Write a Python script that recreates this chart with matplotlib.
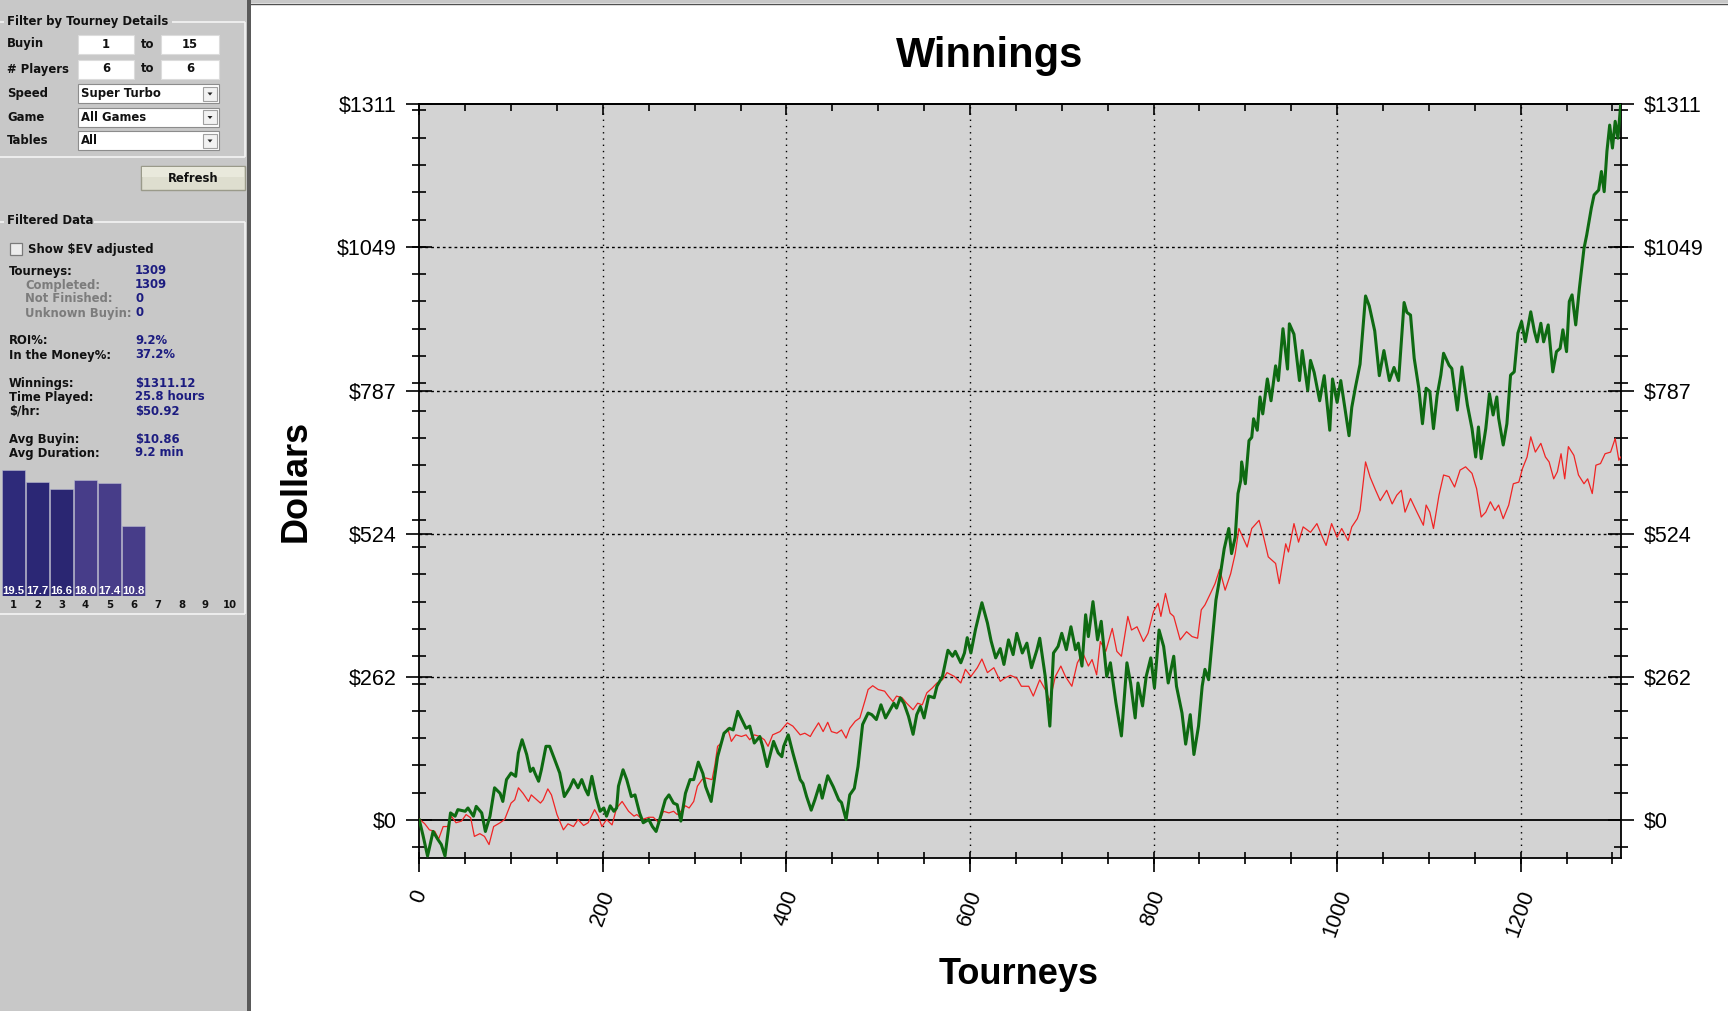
import matplotlib
matplotlib.use('Agg')
import matplotlib.pyplot as plt
from matplotlib.patches import Rectangle, Polygon
from matplotlib.ticker import FixedLocator, MultipleLocator, FuncFormatter

# ---------------- data ----------------
winnings_t = [0, 4, 9, 15, 20, 24, 28, 34, 39, 42, 50, 53, 59, 62, 68, 72, 77, 82, 88, 91,
              95, 100, 105, 108, 112, 117, 121, 124, 126, 130, 133, 138, 142, 147, 153, 158,
              164, 168, 173, 177, 181, 184, 188, 193, 197, 201, 204, 208, 212, 215, 217, 222,
              226, 231, 235, 240, 244, 250, 254, 258, 263, 268, 272, 277, 281, 285, 290, 295,
              299, 304, 309, 312, 318, 325, 332, 338, 342, 347, 356, 360, 365, 371, 374, 379,
              386, 391, 395, 397, 402, 407, 415, 418, 422, 427, 431, 436, 439, 445, 451, 457,
              460, 465, 469, 474, 478, 483, 489, 493, 498, 503, 508, 512, 517, 520, 524, 528,
              533, 538, 542, 546, 550, 555, 561, 564, 570, 576, 581, 584, 590, 594, 597, 601,
              606, 613, 619, 623, 628, 633, 637, 642, 647, 651, 657, 662, 667, 673, 676, 682,
              687, 691, 696, 700, 705, 710, 715, 718, 722, 726, 729, 734, 739, 743, 749, 753,
              759, 765, 771, 775, 780, 783, 788, 792, 797, 801, 806, 811, 816, 822, 825, 831,
              835, 840, 844, 849, 853, 856, 860, 864, 868, 873, 877, 882, 885, 889, 892, 895,
              896, 900, 904, 907, 909, 913, 916, 919, 924, 928, 933, 936, 941, 946, 948, 953,
              959, 962, 968, 971, 975, 981, 986, 992, 995, 1000, 1004, 1013, 1016, 1020, 1025,
              1031, 1035, 1041, 1046, 1051, 1057, 1062, 1067, 1073, 1076, 1080, 1084, 1089,
              1093, 1097, 1101, 1105, 1109, 1113, 1116, 1122, 1125, 1131, 1136, 1142, 1147,
              1151, 1154, 1157, 1162, 1166, 1170, 1174, 1176, 1181, 1185, 1189, 1193, 1197,
              1201, 1205, 1211, 1215, 1218, 1222, 1225, 1230, 1235, 1239, 1243, 1246, 1250,
              1253, 1256, 1260, 1264, 1269, 1272, 1277, 1280, 1285, 1288, 1291, 1294, 1297,
              1300, 1303, 1306, 1309]
winnings_v = [0, -28, -66, -21, -35, -45, -66, 13, 7, 19, 16, 22, 7, 25, 13, -21, 7, 59, 49, 34,
              74, 86, 80, 123, 147, 120, 89, 95, 86, 71, 92, 135, 135, 113, 86, 43,
              59, 74, 59, 74, 56, 46, 80, 40, 16, 22, 7, 26, 16, 22, 62, 92,
              74, 43, 46, 13, -5, 1, -12, -21, 7, 37, 46, 31, 28, -2, 49, 74,
              74, 106, 85, 61, 34, 116, 159, 168, 165, 199, 168, 172, 141, 153, 135, 98,
              144, 123, 116, 135, 156, 123, 74, 67, 43, 18, 37, 64, 40, 81, 61, 37,
              32, 1, 46, 58, 98, 175, 196, 193, 184, 211, 187, 199, 214, 205, 224, 214,
              190, 157, 193, 208, 187, 227, 224, 245, 263, 311, 300, 309, 288, 306, 334, 306,
              349, 398, 361, 328, 297, 314, 285, 330, 303, 342, 306, 324, 279, 312, 333, 263,
              172, 306, 318, 342, 312, 354, 312, 324, 282, 376, 336, 400, 330, 364, 263, 288,
              215, 154, 288, 251, 187, 251, 209, 263, 297, 242, 348, 318, 251, 300, 245, 196,
              139, 193, 120, 172, 245, 276, 257, 330, 403, 452, 497, 534, 488, 518, 598, 622,
              656, 616, 695, 701, 735, 714, 775, 744, 808, 768, 832, 805, 900, 826, 909, 890,
              805, 860, 787, 842, 820, 768, 814, 714, 808, 765, 805, 704, 756, 793, 835,
              960, 942, 896, 814, 860, 805, 829, 805, 948, 930, 925, 846, 791,
              726, 791, 785, 717, 778, 815, 855, 833, 827, 751, 830, 760, 717,
              665, 720, 662, 717, 781, 742, 775, 736, 687, 726, 815, 821, 892,
              913, 876, 931, 895, 876, 910, 876, 907, 821, 858, 864, 898, 858,
              950, 962, 907, 974, 1047, 1072, 1121, 1145, 1154, 1188, 1151, 1225, 1273,
              1231, 1280, 1249, 1311.12]

ev_t = [0, 6, 11, 17, 21, 26, 31, 35, 40, 46, 51, 56, 60, 66, 71, 76, 81, 88, 93, 100,
        104, 108, 113, 119, 122, 128, 132, 135, 140, 144, 150, 157, 162, 168, 173, 179, 184,
        191, 195, 199, 204, 210, 215, 221, 228, 234, 237, 243, 250, 255, 261, 266, 272, 277,
        281, 285, 290, 294, 299, 303, 308, 312, 319, 322, 325, 329, 332, 336, 340, 345, 351,
        356, 360, 365, 371, 376, 380, 385, 393, 401, 407, 415, 420, 426, 429, 435, 440, 445,
        449, 455, 460, 465, 469, 475, 480, 486, 489, 494, 500, 507, 511, 516, 520, 526, 531,
        538, 543, 548, 553, 559, 564, 570, 575, 583, 590, 595, 601, 608, 613, 619, 626, 633,
        638, 644, 651, 656, 664, 669, 676, 682, 687, 693, 699, 704, 711, 717, 723, 729, 733,
        738, 742, 748, 755, 760, 765, 772, 776, 782, 789, 794, 800, 805, 808, 813, 818, 822,
        829, 836, 842, 848, 852, 856, 862, 867, 872, 878, 884, 889, 893, 898, 902, 907, 915,
        920, 925, 933, 937, 944, 947, 953, 958, 963, 971, 978, 984, 988, 994, 1000, 1005,
        1012, 1016, 1022, 1025, 1031, 1036, 1042, 1047, 1054, 1060, 1065, 1070, 1074, 1080,
        1087, 1094, 1097, 1101, 1105, 1111, 1116, 1122, 1128, 1134, 1140, 1147, 1152, 1157,
        1162, 1167, 1172, 1176, 1181, 1187, 1192, 1198, 1202, 1207, 1211, 1216, 1222, 1227,
        1231, 1236, 1240, 1244, 1248, 1252, 1258, 1263, 1269, 1273, 1278, 1282, 1287, 1292,
        1298, 1303, 1307, 1309]
ev_v = [2, -7, -18, -21, -35, -12, -12, 7, -5, -2, 10, 4, -30, -25, -30, -45, -12, -5, 1, 31,
        37, 59, 49, 34, 46, 37, 31, 37, 57, 46, 10, -18, -7, -12, 1, -10, -5,
        19, 7, -12, 1, -9, 22, 34, 16, 7, 10, 1, 5, 5, -5, 16, 13, 16,
        10, 16, 26, 22, 34, 62, 74, 77, 74, 100, 135, 141, 156, 168, 144, 156, 153,
        156, 147, 156, 153, 147, 135, 156, 162, 178, 172, 156, 159, 153, 162, 178, 162, 179,
        162, 159, 165, 150, 168, 181, 187, 221, 239, 246, 239, 236, 227, 217, 227, 224, 214,
        202, 214, 211, 233, 242, 251, 257, 270, 263, 251, 276, 263, 279, 295, 270, 279, 254,
        260, 265, 260, 245, 245, 227, 257, 239, 218, 263, 282, 263, 245, 288, 306, 282, 294,
        266, 327, 309, 351, 309, 300, 373, 348, 354, 327, 342, 382, 397, 373, 415, 379, 373,
        330, 345, 336, 333, 385, 394, 415, 433, 459, 421, 451, 488, 534, 515, 500, 534, 549,
        518, 482, 470, 433, 506, 491, 543, 509, 537, 527, 543, 518, 503, 543, 518, 534,
        512, 537, 552, 567, 656, 628, 604, 585, 604, 579, 595, 604, 564, 589,
        564, 540, 577, 564, 534, 595, 632, 629, 610, 641, 647, 635, 607, 555,
        564, 583, 567, 577, 552, 577, 616, 619, 644, 665, 702, 674, 690, 665,
        656, 625, 638, 671, 625, 684, 668, 632, 616, 625, 598, 650, 653, 671,
        674, 699, 659, 665]

x_ticks = [0, 200, 400, 600, 800, 1000, 1200]
y_ticks = [0, 262.224, 524.448, 786.672, 1048.896, 1311.12]
x_range = [0, 1309]
y_range = [-69.6, 1311.12]

finish_places = [1, 2, 3, 4, 5, 6, 7, 8, 9, 10]
finish_pct = [19.5, 17.7, 16.6, 18.0, 17.4, 10.8]

filter_rows = [("Buyin", "1", "15"), ("# Players", "6", "6")]
combo_rows = [("Speed", "Super Turbo"), ("Game", "All Games"), ("Tables", "All")]
stats_rows = [("Tourneys:", "1309", False), ("Completed:", "1309", True),
              ("Not Finished:", "0", True), ("Unknown Buyin:", "0", True),
              ("ROI%:", "9.2%", False), ("In the Money%:", "37.2%", False),
              ("Winnings:", "$1311.12", False), ("Time Played:", "25.8 hours", False),
              ("$/hr:", "$50.92", False), ("Avg Buyin:", "$10.86", False),
              ("Avg Duration:", "9.2 min", False)]

# ---------------- figure ----------------
W, H = 1728, 1011
fig = plt.figure(figsize=(W / 100, H / 100), dpi=100)
fig.patch.set_facecolor('white')

CH = ['Liberation Sans', 'DejaVu Sans']
UI = ['DejaVu Sans']

bg = fig.add_axes([0, 0, 1, 1])
bg.set_xlim(0, W)
bg.set_ylim(H, 0)
bg.axis('off')
bg.set_zorder(0)

# sidebar panels
bg.add_patch(Rectangle((0, 0), 247, H, fc='#c8c8c8', ec='none'))
bg.add_patch(Rectangle((247, 0), 4, H, fc='#5a5a5a', ec='none'))
bg.add_patch(Rectangle((251, 0), W - 251, 3, fc='#c8c8c8', ec='none'))
bg.plot([251, W], [3.5, 3.5], color='#505050', lw=1)

gb = dict(color='#f4f4f4', lw=1.2, solid_capstyle='butt')
bg.plot([0, 4], [22, 22], **gb)
bg.plot([172, 245], [22, 22], **gb)
bg.plot([245, 245], [22, 157], **gb)
bg.plot([0, 245], [157, 157], **gb)
bg.plot([0, 4], [222, 222], **gb)
bg.plot([94, 245], [222, 222], **gb)
bg.plot([245, 245], [222, 614], **gb)
bg.plot([0, 245], [614, 614], **gb)

ui = dict(family=UI, weight='bold', fontsize=8.4, va='center')
bg.text(7, 21, "Filter by Tourney Details", color='#111111', **ui)
for i, (lab, a, b) in enumerate(filter_rows):
    yc = 44 + 25 * i
    bg.text(7, yc, lab, color='#111111', **ui)
    bg.add_patch(Rectangle((78, yc - 9), 56, 19, fc='white', ec='#dcdcdc', lw=0.8))
    bg.add_patch(Rectangle((161, yc - 9), 58, 19, fc='white', ec='#dcdcdc', lw=0.8))
    bg.text(106, yc, a, color='#111111', ha='center', **ui)
    bg.text(190, yc, b, color='#111111', ha='center', **ui)
    bg.text(148, yc, "to", color='#111111', ha='center', **ui)

for i, (lab, val) in enumerate(combo_rows):
    yc = 94 + 23.5 * i
    top = 84 + 23.5 * i
    bg.text(7, yc, lab, color='#111111', **ui)
    bg.add_patch(Rectangle((78, top), 141, 19, fc='white', ec='#8c8c8c', lw=0.8))
    bg.text(81, yc, val, color='#111111', **ui)
    bg.add_patch(Rectangle((203, top + 2.5), 14, 14, fc='#f2f2f2', ec='#a0a0a0', lw=0.8))
    bg.add_patch(Polygon([[207.5, yc - 1.5], [212.5, yc - 1.5], [210, yc + 1.5]],
                         closed=True, fc='#222222', ec='none'))

# refresh button
bg.add_patch(Rectangle((141, 166), 104, 24, fc='#dedecf', ec='#9a9a8a', lw=1))
bg.add_patch(Rectangle((142, 167), 102, 10, fc='#e9e9dc', ec='none'))
bg.text(193, 178, "Refresh", color='#111111', ha='center', **ui)

# filtered data
bg.text(7, 221, "Filtered Data", color='#111111', **ui)
bg.add_patch(Rectangle((10, 243), 12, 12, fc='#ececec', ec='#7a7a7a', lw=0.9))
bg.text(28, 249, "Show $EV adjusted", color='#111111', **ui)

stat_y = [271, 285, 299, 313, 341, 355, 383, 397, 411, 439, 453]
for (lab, val, sub), yc in zip(stats_rows, stat_y):
    bg.text(25 if sub else 9, yc, lab, color='#7c7c7c' if sub else '#111111', **ui)
    bg.text(135, yc, val, color='#1c1c80', **ui)

# finish distribution bars
bx = fig.add_axes([1.5 / W, (H - 595.7) / H, 240 / W, 129 / H])
bx.set_xlim(0.5, 10.5)
bx.set_ylim(0, 20)
bx.axis('off')
bar_cols = ['#2e2a7a', '#2b2775', '#2a2672', '#473d89', '#473d89', '#473d89']
bx.bar(finish_places[:len(finish_pct)], finish_pct, width=0.96, color=bar_cols,
       edgecolor='#b8b8d0', linewidth=0.4)
for p, v in zip(finish_places, finish_pct):
    bx.text(p, 0.75, f"{v:.1f}", color='white', ha='center', va='center',
            family=['Liberation Sans'], weight='bold', fontsize=8.2)
for p in finish_places:
    bg.text(13.5 + 24 * (p - 1), 605, str(p), color='#111111', ha='center', va='center',
            family=UI, weight='bold', fontsize=7.3)

# ---------------- main chart ----------------
L, R, T, B = 419.3, 1620.7, 104.3, 858.0
ax = fig.add_axes([L / W, (H - B) / H, (R - L) / W, (B - T) / H])
ax.set_zorder(2)
ax.set_facecolor('#d3d3d3')
ax.set_xlim(*x_range)
ax.set_ylim(*y_range)

for xv in x_ticks[1:]:
    ax.axvline(xv, color='black', lw=1.0, ls=(0, (1, 3.5)), zorder=1)
for yv in y_ticks[1:-1]:
    ax.axhline(yv, color='black', lw=1.0, ls=(0, (2, 2.2)), zorder=1)
ax.axhline(0, color='black', lw=1.3, zorder=2)

ax.plot(ev_t, ev_v, color='#f02424', lw=0.9, zorder=3)
ax.plot(winnings_t, winnings_v, color='#0e6a12', lw=2.2, zorder=4)

for s in ax.spines.values():
    s.set_color('black')
    s.set_linewidth(1.3)

ax.xaxis.set_major_locator(FixedLocator(x_ticks))
ax.xaxis.set_minor_locator(MultipleLocator(50))
ax.xaxis.remove_overlapping_locs = False
ax.xaxis.set_major_formatter(FuncFormatter(lambda v, p: f"{v:.0f}"))
ax.tick_params(axis='x', which='minor', direction='inout', length=9, width=1.2,
               top=False, bottom=True)
ax.tick_params(axis='x', which='major', direction='out', length=10, width=1.2,
               top=False, bottom=True, labelsize=15.5, pad=11, labelrotation=70)
for lab in ax.get_xticklabels():
    lab.set_family(CH)

ax.yaxis.set_major_locator(FixedLocator(y_ticks))
ax.yaxis.set_minor_locator(MultipleLocator(50))
ax.yaxis.set_major_formatter(FuncFormatter(lambda v, p: f"${v:.0f}"))
ax.tick_params(axis='y', which='major', direction='inout', length=19, width=1.2,
               left=True, right=True, labelleft=True, labelright=True,
               labelsize=15.5, pad=7)
ax.tick_params(axis='y', which='minor', direction='inout', length=10, width=1.2,
               left=True, right=True)
for lab in ax.yaxis.get_ticklabels(which='major'):
    lab.set_family(CH)

sec = ax.secondary_xaxis('top')
sec.xaxis.set_major_locator(FixedLocator(x_ticks))
sec.xaxis.set_minor_locator(MultipleLocator(50))
sec.tick_params(which='major', direction='in', length=8, width=1.2, labeltop=False)
sec.tick_params(which='minor', direction='in', length=5, width=1.2)
sec.spines['top'].set_linewidth(1.3)

# titles
bg.text(990, 67, "Winnings", ha='center', va='baseline', fontsize=30,
        weight='bold', family=CH, color='black')
bg.text(1019, 984, "Tourneys", ha='center', va='baseline', fontsize=26,
        weight='bold', family=CH, color='black')
bg.text(296, 481, "Dollars", ha='center', va='center', rotation=90,
        fontsize=26, weight='bold', family=CH, color='black')

fig.savefig('out.png', dpi=100, facecolor=fig.get_facecolor())
